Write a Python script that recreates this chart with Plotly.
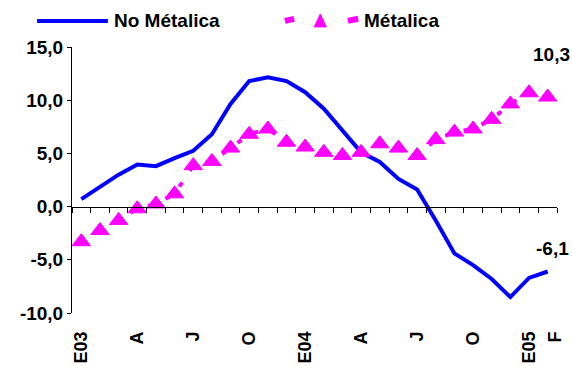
import plotly.graph_objects as go

# Monthly series, January 2003 to February 2005 (26 months)
meses = ["E03", "F", "M", "A", "M", "J", "J", "A", "S", "O", "N", "D",
         "E04", "F", "M", "A", "M", "J", "J", "A", "S", "O", "N", "D",
         "E05", "F"]
no_metalica = [0.7, 1.8, 3.0, 3.95, 3.8, 4.55, 5.25, 6.8, 9.65, 11.8, 12.15, 11.8,
               10.75, 9.2, 7.2, 5.1, 4.2, 2.6, 1.6, -1.3, -4.4, -5.5, -6.8, -8.5,
               -6.7, -6.1]
metalica = [-3.3, -2.25, -1.3, -0.2, 0.25, 1.2, 3.85, 4.25, 5.5, 6.8, 7.3, 6.05,
            5.6, 5.1, 4.8, 5.1, 5.9, 5.5, 4.8, 6.3, 7.0, 7.3, 8.2, 9.65,
            10.7, 10.3]
tick_idx = [0, 3, 6, 9, 12, 15, 18, 21, 24, 25]
y_ticks = [-10, -5, 0, 5, 10, 15]


def fmt(v):
    # one decimal, comma separator, plain hyphen for negatives
    return f"{v:.1f}".replace(".", ",")


x = list(range(len(meses)))
n = len(meses)
FONT = "Liberation Sans, Arial, sans-serif"
FS = 19
BLUE = "#0000FF"
MAGENTA = "#FF00FF"

# the final month label sits at the right edge of its slot
tick_pos = [i if i < n - 1 else i + 0.4 for i in tick_idx]

fig = go.Figure()
fig.add_trace(go.Scatter(x=x, y=no_metalica, mode="lines", name="No Métalica",
                         line=dict(color=BLUE, width=4), showlegend=False))
fig.add_trace(go.Scatter(x=x, y=metalica, mode="lines+markers", name="Métalica",
                         line=dict(color=MAGENTA, width=4, dash="5px,14px"),
                         marker=dict(symbol="triangle-up", size=16, color=MAGENTA,
                                     line=dict(color=MAGENTA, width=1)),
                         showlegend=False))
# invisible trace carrying the zero-line axis with month separators
fig.add_trace(go.Scatter(x=[x[0]], y=[0], xaxis="x2", mode="markers",
                         marker=dict(opacity=0), showlegend=False, hoverinfo="skip"))

fig.update_layout(
    width=572, height=366,
    margin=dict(l=72, r=15, t=47, b=53),
    paper_bgcolor="white", plot_bgcolor="white",
    font=dict(family=FONT, size=FS, color="black", weight="bold"),
    xaxis=dict(range=[-0.5, n - 0.5], tickvals=tick_pos,
               ticktext=[meses[i] for i in tick_idx],
               tickangle=-90, ticks="", showline=False, showgrid=False,
               zeroline=False, ticklabelstandoff=14, automargin=False,
               tickfont=dict(size=FS - 1, weight="bold")),
    xaxis2=dict(overlaying="x", anchor="free", position=0.4,
                range=[-0.5, n - 0.5],
                tickvals=[i - 0.5 for i in range(n + 1)],
                ticks="outside", ticklen=5, tickcolor="black",
                showticklabels=False, showline=True, linecolor="black",
                linewidth=1, showgrid=False, zeroline=False),
    yaxis=dict(range=[-10, 15], tickvals=y_ticks,
               ticktext=[fmt(v) for v in y_ticks],
               ticks="outside", ticklen=4, tickcolor="black",
               showline=True, linecolor="black", linewidth=1,
               showgrid=False, zeroline=False, automargin=False,
               tickfont=dict(size=FS, weight="bold")),
)

# value labels on the last month
fig.add_annotation(x=x[-1], y=metalica[-1], text=fmt(metalica[-1]),
                   showarrow=False, yshift=43, xshift=4,
                   font=dict(size=FS, weight="bold"))
fig.add_annotation(x=x[-1], y=no_metalica[-1], text=fmt(no_metalica[-1]),
                   showarrow=False, yshift=23, xshift=5,
                   font=dict(size=FS, weight="bold"))

# legend row along the top
ly = 1.098
fig.add_shape(type="line", xref="paper", yref="paper", x0=-0.072, x1=0.074,
              y0=ly, y1=ly, line=dict(color=BLUE, width=4))
fig.add_annotation(xref="paper", yref="paper", x=0.083, y=ly, xanchor="left",
                   yanchor="middle", text="No Métalica", showarrow=False,
                   font=dict(size=FS, weight="bold"))
for x0, x1 in [(0.439, 0.458), (0.569, 0.590)]:
    fig.add_shape(type="line", xref="paper", yref="paper", x0=x0, x1=x1,
                  y0=ly, y1=ly + 0.008, line=dict(color=MAGENTA, width=6))
fig.add_shape(type="path", xref="paper", yref="paper", xsizemode="pixel",
              ysizemode="pixel", xanchor=0.512, yanchor=ly,
              path="M-6,-6 L6,-6 L0,7 Z", fillcolor=MAGENTA,
              line=dict(color=MAGENTA, width=1))
fig.add_annotation(xref="paper", yref="paper", x=0.598, y=ly, xanchor="left",
                   yanchor="middle", text="Métalica", showarrow=False,
                   font=dict(size=FS, weight="bold"))

fig.write_html("out.html")
